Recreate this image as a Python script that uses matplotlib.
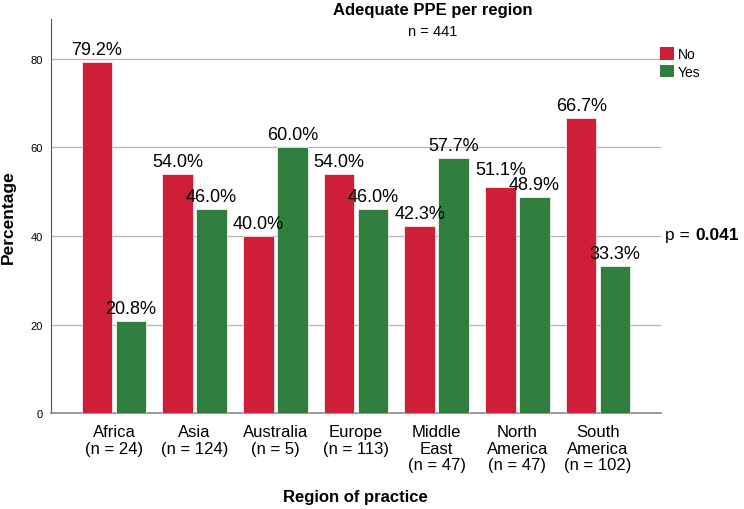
import numpy as np
import matplotlib.pyplot as plt
from matplotlib.patches import Patch

# data
regions = ["Africa\n(n = 24)", "Asia\n(n = 124)", "Australia\n(n = 5)", "Europe\n(n = 113)",
           "Middle\nEast\n(n = 47)", "North\nAmerica\n(n = 47)", "South\nAmerica\n(n = 102)"]
no_pct = [79.2, 54.0, 40.0, 54.0, 42.3, 51.1, 66.7]
yes_pct = [20.8, 46.0, 60.0, 46.0, 57.7, 48.9, 33.3]
yticks = [0, 20, 40, 60, 80]

red = "#CF1E38"
green = "#2F7E3D"
plt.rcParams['font.family'] = ['Liberation Sans', 'DejaVu Sans']

fig = plt.figure(figsize=(7.44, 5.10), dpi=100)
ax = fig.add_axes([0.0685, 0.188, 0.82, 0.773])

x = np.arange(len(regions))
w = 0.38
b1 = ax.bar(x - w / 2 - 0.02, no_pct, w, color=red, edgecolor="white", linewidth=0.5, zorder=3)
b2 = ax.bar(x + w / 2 + 0.02, yes_pct, w, color=green, edgecolor="white", linewidth=0.5, zorder=3)

for i in range(len(regions)):
    pair = [(b1[i], no_pct[i]), (b2[i], yes_pct[i])]
    close = abs(no_pct[i] - yes_pct[i]) < 4
    for r, v in pair:
        lift = 4
        if close and v == max(no_pct[i], yes_pct[i]):
            lift = 9
        ax.annotate("%.1f%%" % v, (r.get_x() + r.get_width() / 2, v),
                    xytext=(0, lift), textcoords="offset pixels",
                    ha="center", va="bottom", fontsize=13, zorder=4)

ax.set_xlim(-0.78, 6.78)
ax.set_ylim(0, 89)
ax.set_yticks(yticks)
ax.set_yticklabels([str(t) for t in yticks], fontsize=8)
ax.set_xticks(x)
ax.set_xticklabels(regions, fontsize=12, va="top", linespacing=1.12)
ax.tick_params(length=0)
ax.tick_params(axis="x", pad=8)
ax.tick_params(axis="y", pad=6)
ax.grid(axis="y", color="#b4b4b4", linewidth=0.9, zorder=0)
for s in ("top", "right"):
    ax.spines[s].set_visible(False)
ax.spines["left"].set_color("#555555")
ax.spines["bottom"].set_color("#888888")
ax.spines["bottom"].set_linewidth(1.2)

fig.text(0.011, 0.575, "Percentage", fontsize=12.5, fontweight="bold", rotation=90,
         ha="center", va="center")
fig.text(0.477, 0.025, "Region of practice", fontsize=12, fontweight="bold",
         ha="center", va="center")

fig.text(0.581, 0.979, "Adequate PPE per region", fontsize=12, fontweight="bold",
         ha="center", va="center")
fig.text(0.581, 0.937, "n = 441", fontsize=10.5, ha="center", va="center")

handles = [Patch(facecolor=red, label="No"), Patch(facecolor=green, label="Yes")]
fig.legend(handles=handles, loc="upper left", bbox_to_anchor=(0.887, 0.905), frameon=False,
           fontsize=10, handlelength=1.0, handleheight=1.0, handletextpad=0.3,
           labelspacing=0.25, borderaxespad=0, borderpad=0)

fig.text(0.894, 0.539, "p =", fontsize=12.5, ha="left", va="center")
fig.text(0.934, 0.539, "0.041", fontsize=12.5, fontweight="bold", ha="left", va="center")

fig.savefig("out.png", dpi=100)
